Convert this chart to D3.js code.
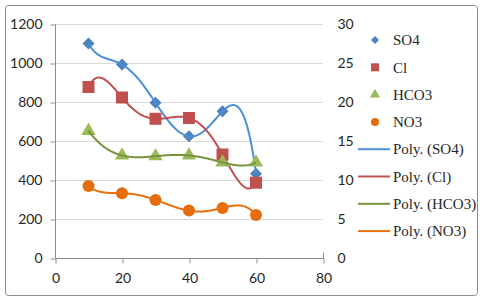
<!DOCTYPE html>
<html>
<head>
<meta charset="utf-8">
<script src="https://cdn.jsdelivr.net/npm/d3@7"></script>
<style>
  body { margin: 0; background: #fff; }
  svg { display: block; }
  .legend text { font-family: "Liberation Serif", "DejaVu Serif", "Times New Roman", serif; font-size: 15px; }
</style>
</head>
<body>
<script>
// sample positions (x axis)
const depths = [10, 20, 30, 40, 50, 60];

const so4 = [1100, 992, 796, 624, 752, 432];
const cl = [877, 823, 714, 718, 531, 386];
const hco3 = [652, 526, 522, 526, 490, 490];
const no3 = [369, 332, 298, 243, 257, 220];

const leftTicks = [0, 200, 400, 600, 800, 1000, 1200];
const rightTicks = [0, 5, 10, 15, 20, 25, 30];
const xTicks = [0, 20, 40, 60, 80];

const seriesNames = ["SO4", "Cl", "HCO3", "NO3"];
const seriesValues = [so4, cl, hco3, no3];
const markerColors = ["#4F81BD", "#C0504D", "#9BBB59", "#E46C0A"];
const lineColors = ["#4A8EDB", "#C0504D", "#77933C", "#E8700D"];
const shapes = ["diamond", "square", "triangle", "circle"];

const width = 480;
const height = 301;

// least squares polynomial (Excel "Poly." trendline, order 5)
function polyfit(xs, ys, order) {
  const mid = d3.mean(xs), half = (d3.max(xs) - d3.min(xs)) / 2;
  const ts = xs.map(x => (x - mid) / half);
  const n = order + 1;
  const A = [];
  for (let i = 0; i < n; i++) {
    A.push([]);
    for (let j = 0; j <= n; j++) A[i].push(0);
  }
  ts.forEach((t, k) => {
    for (let i = 0; i < n; i++) {
      for (let j = 0; j < n; j++) A[i][j] += Math.pow(t, i + j);
      A[i][n] += ys[k] * Math.pow(t, i);
    }
  });
  for (let c = 0; c < n; c++) {
    let p = c;
    for (let r = c + 1; r < n; r++) if (Math.abs(A[r][c]) > Math.abs(A[p][c])) p = r;
    [A[c], A[p]] = [A[p], A[c]];
    for (let r = 0; r < n; r++) {
      if (r === c) continue;
      const f = A[r][c] / A[c][c];
      for (let j = c; j <= n; j++) A[r][j] -= f * A[c][j];
    }
  }
  const coef = A.map((row, i) => row[n] / row[i]);
  return x => {
    const t = (x - mid) / half;
    return coef.reduce((s, a, i) => s + a * Math.pow(t, i), 0);
  };
}

const svg = d3.select("body").append("svg")
  .attr("width", width)
  .attr("height", height);

svg.append("rect")
  .attr("x", 5.5).attr("y", 5.5)
  .attr("width", 472).attr("height", 290)
  .attr("rx", 3)
  .attr("fill", "#fff")
  .attr("stroke", "#8c8c8c");

const x = d3.scaleLinear().domain([0, 80]).range([55, 323]);
const y = d3.scaleLinear().domain([0, 1200]).range([258, 24]);
const y2 = d3.scaleLinear().domain([0, 30]).range([258, 24]);

const axisFont = "Lato, 'Liberation Sans', sans-serif";

// gridlines
svg.append("g").selectAll("line")
  .data(leftTicks.slice(1))
  .enter().append("line")
  .attr("x1", x(0)).attr("x2", x(80))
  .attr("y1", d => Math.round(y(d)) + 0.5)
  .attr("y2", d => Math.round(y(d)) + 0.5)
  .attr("stroke", "#d9d9d9");

// left axis
const gLeft = svg.append("g")
  .attr("transform", `translate(${x(0) + 0.5},0.5)`)
  .call(d3.axisLeft(y).tickValues(leftTicks).tickFormat(d3.format("d")).tickSize(5).tickPadding(8));

// right axis
const gRight = svg.append("g")
  .attr("transform", `translate(${x(80) + 0.5},0.5)`)
  .call(d3.axisRight(y2).tickValues(rightTicks).tickFormat(d3.format("d")).tickSize(0).tickPadding(14));

// bottom axis
const gBottom = svg.append("g")
  .attr("transform", `translate(0.5,${y(0) + 0.5})`)
  .call(d3.axisBottom(x).tickValues(xTicks).tickFormat(d3.format("d")).tickSize(5).tickPadding(10));

[gLeft, gRight, gBottom].forEach(g => {
  g.select(".domain").attr("stroke", "#8c8c8c");
  g.selectAll(".tick line").attr("stroke", "#8c8c8c");
  g.selectAll("text")
    .attr("fill", "#262626")
    .style("font-family", axisFont)
    .style("font-size", "14px");
});
gLeft.select(".domain").attr("d", `M0,${y(1200)}V${y(0)}`);
gRight.select(".domain").attr("d", `M0,${y(30)}V${y(0)}`);
gBottom.select(".domain").attr("d", `M${x(0)},0H${x(80)}`);

function markerPath(shape, s) {
  if (shape === "diamond") return d3.symbol(d3.symbolSquare, s * s / 2)();
  if (shape === "square") return d3.symbol(d3.symbolSquare, s * s)();
  if (shape === "triangle") return d3.symbol(d3.symbolTriangle, s * s * 0.45)();
  return d3.symbol(d3.symbolCircle, Math.PI * s * s / 4)();
}

const markerSize = [12, 12, 14, 12];

const trendLine = d3.line()
  .x(d => x(d[0]))
  .y(d => y(d[1]));

seriesValues.forEach((vals, i) => {
  const pts = depths.map((d, k) => [d, vals[k]]);

  svg.append("g").selectAll("path")
    .data(pts)
    .enter().append("path")
    .attr("d", markerPath(shapes[i], markerSize[i]))
    .attr("transform", d => `translate(${x(d[0])},${y(d[1])})` + (shapes[i] === "diamond" ? " rotate(45)" : ""))
    .attr("fill", markerColors[i]);

  const fit = polyfit(depths, vals, 5);
  const samples = d3.range(10, 60.01, 0.25).map(t => [t, fit(t)]);
  svg.append("path")
    .datum(samples)
    .attr("d", trendLine)
    .attr("fill", "none")
    .attr("stroke", lineColors[i])
    .attr("stroke-width", 2);
});

// legend
const legendY = d3.range(8).map(k => 40 + k * 27.3);
const legendSize = [8, 8, 10, 8];
const legend = svg.append("g").attr("class", "legend");

seriesNames.forEach((name, i) => {
  const g = legend.append("g").attr("transform", `translate(375,${legendY[i]})`);
  g.append("path")
    .attr("d", markerPath(shapes[i], legendSize[i]))
    .attr("transform", shapes[i] === "diamond" ? "rotate(45)" : null)
    .attr("fill", markerColors[i]);
  g.append("text")
    .attr("x", 18).attr("dy", "0.35em")
    .attr("fill", "#262626")
    .text(name);
});

seriesNames.forEach((name, i) => {
  const g = legend.append("g").attr("transform", `translate(358,${legendY[i + 4]})`);
  g.append("line")
    .attr("x1", 0).attr("x2", 32)
    .attr("stroke", lineColors[i])
    .attr("stroke-width", 2);
  g.append("text")
    .attr("x", 35).attr("dy", "0.35em")
    .attr("fill", "#262626")
    .text(`Poly. (${name})`);
});
</script>
</body>
</html>
